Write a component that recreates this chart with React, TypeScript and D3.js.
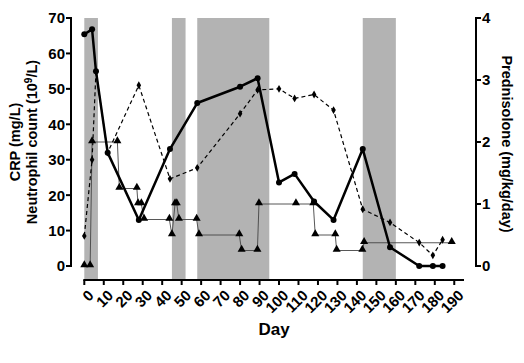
import React from "react";
import * as d3 from "d3";

// shaded treatment periods (day ranges)
const bands = [
  [0, 7],
  [45, 52],
  [58, 95],
  [143, 160],
];

// CRP (mg/L) - solid thick line
const crpDays = [0, 4, 6, 12, 28, 44, 58, 80, 89, 100, 108, 118, 128, 143, 157, 172, 179, 184];
const crpValues = [65.4, 66.8, 55, 32, 13, 33, 46, 50.6, 53, 23.6, 26, 18.2, 13, 33, 5.3, 0, 0, 0];

// Neutrophil count (10^9/L) - dashed line
const neutDays = [0, 4, 6, 12, 28, 44, 58, 80, 89, 100, 108, 118, 128, 143, 157, 172, 179, 184];
const neutValues = [8.5, 30, 55, 32, 51, 24.6, 27.7, 43, 49.7, 50, 47.3, 48.4, 44, 16, 12.3, 6.6, 3, 7.4];

// Prednisolone (mg/kg/day) - thin line with triangles, right axis
const predDays = [0, 3, 4, 17, 18, 27, 27.6, 29.3, 30.7, 43.7, 45, 46.6, 47.5, 48.6, 57.7, 58.9, 79.6, 80.8, 88.9, 89.7, 108.7, 117.6, 118.6, 128.9, 129.6, 142.8, 143.7, 188.7];
const predValues = [0, 0, 2, 2, 1.25, 1.25, 1, 1, 0.75, 0.75, 0.5, 1, 1, 0.75, 0.75, 0.5, 0.5, 0.25, 0.25, 1, 1, 1, 0.5, 0.5, 0.25, 0.25, 0.375, 0.375];

const xTicks = d3.range(0, 200, 10);
const leftTicks = [0, 10, 20, 30, 40, 50, 60, 70];
const rightTicks = [0, 1, 2, 3, 4];

const W = 524;
const H = 363;
const font = "'Liberation Sans', Arial, sans-serif";

export default function App() {
  const x = d3.scaleLinear().domain([0, 195]).range([84.3, 464]);
  const yL = d3.scaleLinear().domain([0, 70]).range([266, 18]);
  const yR = d3.scaleLinear().domain([0, 4]).range([266, 18]);
  const plotBottom = 279;
  const axisY = 280;
  const leftX = 71;
  const rightX = 476;

  const crp = crpDays.map((d, i) => [d, crpValues[i]] as [number, number]);
  const neut = neutDays.map((d, i) => [d, neutValues[i]] as [number, number]);
  const pred = predDays.map((d, i) => [d, predValues[i]] as [number, number]);

  const lineL = d3.line<[number, number]>().x((d) => x(d[0])).y((d) => yL(d[1]));
  const lineR = d3.line<[number, number]>().x((d) => x(d[0])).y((d) => yR(d[1]));

  const diamond = d3.symbol().type(d3.symbolDiamond).size(18)() as string;
  const triangle = d3.symbol().type(d3.symbolTriangle).size(28)() as string;

  return (
    <svg
      width={W}
      height={H}
      style={{ position: "absolute", left: 0, top: 0, background: "#fff" }}
      fontFamily={font}
      fontWeight="bold"
    >
      {/* shaded periods */}
      {bands.map(([a, b], i) => (
        <rect key={i} x={x(a)} y={18} width={x(b) - x(a)} height={plotBottom - 18} fill="#b3b3b3" />
      ))}

      {/* prednisolone */}
      <path d={lineR(pred) as string} fill="none" stroke="#444" strokeWidth={0.9} />
      {pred.map((d, i) => (
        <path key={i} d={triangle} transform={`translate(${x(d[0])},${yR(d[1]) - 1})`} fill="#000" />
      ))}

      {/* neutrophils */}
      <path d={lineL(neut) as string} fill="none" stroke="#000" strokeWidth={1.2} strokeDasharray="4,3" />
      {neut.map((d, i) => (
        <path key={i} d={diamond} transform={`translate(${x(d[0])},${yL(d[1])})`} fill="#000" />
      ))}

      {/* CRP */}
      <path d={lineL(crp) as string} fill="none" stroke="#000" strokeWidth={2.5} strokeLinejoin="round" />
      {crp.map((d, i) => (
        <circle key={i} cx={x(d[0])} cy={yL(d[1])} r={3} fill="#000" />
      ))}

      {/* left axis */}
      <line x1={leftX} x2={leftX} y1={yL(70) - 1} y2={yL(0) + 1} stroke="#000" strokeWidth={2} />
      {leftTicks.map((t) => (
        <g key={t} transform={`translate(0,${yL(t)})`}>
          <line x1={leftX - 5} x2={leftX} stroke="#000" strokeWidth={2} />
          <text x={leftX - 6} dy="0.36em" textAnchor="end" fontSize={15}>
            {t}
          </text>
        </g>
      ))}

      {/* right axis */}
      <line x1={rightX} x2={rightX} y1={yR(4) - 1} y2={yR(0) + 1} stroke="#000" strokeWidth={2} />
      {rightTicks.map((t) => (
        <g key={t} transform={`translate(0,${yR(t)})`}>
          <line x1={rightX} x2={rightX + 5} stroke="#000" strokeWidth={2} />
          <text x={rightX + 6} dy="0.36em" textAnchor="start" fontSize={15}>
            {t}
          </text>
        </g>
      ))}

      {/* x axis */}
      <line x1={x(0) - 1} x2={x(195)} y1={axisY} y2={axisY} stroke="#000" strokeWidth={2} />
      {xTicks.map((t) => (
        <g key={t} transform={`translate(${x(t)},${axisY})`}>
          <line y1={0} y2={5} stroke="#000" strokeWidth={2} />
          <text
            transform="translate(3,9) rotate(-45)"
            textAnchor="end"
            dy="0.7em"
            fontSize={15}
          >
            {t}
          </text>
        </g>
      ))}

      {/* axis titles */}
      <text x={(x(0) + x(195)) / 2} y={335} textAnchor="middle" fontSize={17}>
        Day
      </text>
      <text transform={`translate(20,142) rotate(-90)`} textAnchor="middle" fontSize={14.5}>
        CRP (mg/L)
      </text>
      <text transform={`translate(37,142) rotate(-90)`} textAnchor="middle" fontSize={14.5}>
        Neutrophil count (10<tspan dy="-5" fontSize={10}>9</tspan>
        <tspan dy="5">/L)</tspan>
      </text>
      <text transform={`translate(502,144) rotate(90)`} textAnchor="middle" fontSize={14.5}>
        Prednisolone (mg/kg/day)
      </text>
    </svg>
  );
}
